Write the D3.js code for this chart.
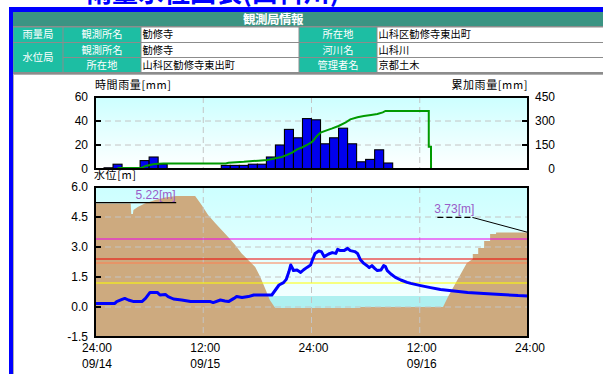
<!DOCTYPE html>
<html>
<head>
<meta charset="utf-8">
<script src="https://cdn.jsdelivr.net/npm/d3@7"></script>
<style>
  html, body { margin: 0; padding: 0; background: #fff; overflow: hidden; }
  svg { display: block; }
  text { font-family: "Liberation Sans", Arial, sans-serif; }
  .jp { font-family: "Noto Sans CJK JP", "Noto Sans", sans-serif; }
</style>
</head>
<body>
<svg id="chart" width="603" height="374"></svg>
<script>
// ---------- station information ----------
const pageTitle   = "雨量水位図表(山科川)";
const tableTitle  = "観測局情報";
const stationKinds = ["雨量局", "水位局"];
const fieldNames  = ["観測所名", "所在地", "観測所名", "河川名", "所在地", "管理者名"];
const fieldValues = ["勧修寺", "山科区勧修寺東出町", "勧修寺", "山科川", "山科区勧修寺東出町", "京都土木"];

// ---------- time axis (hours from 09/14 24:00) ----------
const tickHours = [0, 12, 24, 36, 48];
const tickTimes = ["24:00", "12:00", "24:00", "12:00", "24:00"];
const tickDates = ["09/14", "09/15", "", "09/16", ""];

// ---------- hourly rainfall [mm] ----------
const rainValues = [0, 1, 4, 0, 0, 7, 10, 4, 0, 0, 0, 0, 0, 0, 3, 3,
                    3, 4, 4, 10, 20, 33, 26, 42, 41, 21, 26, 34, 21, 6, 8, 16,
                    5, 0, 0, 0, 0, 0, 0, 0, 0, 0, 0, 0, 0, 0, 0, 0];
const rainHours = d3.range(rainValues.length);

// ---------- cumulative rainfall [mm] ----------
const cumHours  = [2.5, 5.2, 5.6, 6.1, 6.6, 7.6, 14.5, 14.8, 16.5, 17.5, 18.1, 19.1, 20.0,
                   20.7, 21.3, 21.9, 22.4, 23.0, 23.5, 24.1, 24.6, 25.0, 25.6, 26.3, 27.0,
                   27.8, 28.3, 29.1, 29.8, 30.6, 31.3, 31.9, 32.2, 37.0, 37.0, 37.25, 37.25];
const cumValues = [6, 8, 19, 25, 31, 34, 34, 39, 45, 50, 52, 56, 67,
                   75, 88, 104, 123, 136, 150, 171, 206, 227, 240, 254, 269,
                   292, 310, 323, 331, 338, 344, 354, 363, 363, 139, 139, 0];

// ---------- water level [m] ----------
const levelHours = [0, 2.2, 2.4, 3.0, 3.3, 3.7, 4.3, 5.2, 5.6, 6.1, 6.9, 7.2, 7.8, 8.1, 8.7, 9.6,
                    10.6, 12.8, 13.1, 13.9, 14.4, 14.8, 15.4, 15.7, 16.3, 17.0, 17.6, 19.6, 20.0,
                    20.4, 20.9, 21.2, 21.5, 21.7, 21.9, 22.0, 22.4, 22.8, 23.1, 23.5, 23.9, 24.1,
                    24.4, 24.8, 25.1, 25.4, 25.9, 26.3, 26.7, 26.9, 27.2, 27.6, 28.0, 28.3, 28.8,
                    29.1, 29.4, 29.8, 30.2, 30.4, 30.7, 31.0, 31.3, 31.7, 32.0, 32.2, 32.4, 32.8,
                    33.3, 33.9, 34.6, 35.0, 36.1, 37.2, 38.3, 39.8, 41.3, 43.1, 45.0, 46.9, 48.0];
const levelValues = [0.18, 0.18, 0.27, 0.38, 0.43, 0.35, 0.27, 0.27, 0.43, 0.73, 0.73, 0.60, 0.63, 0.52, 0.40, 0.35,
                     0.27, 0.27, 0.22, 0.35, 0.30, 0.27, 0.43, 0.52, 0.47, 0.52, 0.60, 0.60, 0.85,
                     1.10, 1.22, 1.38, 1.77, 2.10, 1.93, 1.82, 1.85, 1.73, 1.85, 1.98, 2.10, 2.35,
                     2.68, 2.80, 2.77, 2.52, 2.65, 2.72, 2.68, 2.88, 2.82, 2.82, 2.93, 2.82, 2.77,
                     2.68, 2.38, 2.18, 2.05, 1.97, 2.07, 1.93, 1.82, 1.85, 2.07, 2.02, 1.82, 1.65,
                     1.48, 1.35, 1.23, 1.18, 1.07, 0.97, 0.88, 0.80, 0.73, 0.68, 0.63, 0.57, 0.55];

// ---------- river cross-section (distance [m], elevation [m]) ----------
const sectionDist = [0, 6.6, 6.7, 7.0, 7.1, 7.9, 9.2, 11.1, 12.9, 15.0, 18.5, 19.7, 20.9, 22.2,
                     23.4, 24.6, 25.9, 27.1, 28.3, 29.6, 30.5, 31.4, 32.3, 33.3, 49.0, 49.0,
                     64.3, 65.2, 68.7, 69.8, 69.8, 70.8, 70.8, 71.9, 71.9, 73.0, 73.0, 74.1, 74.1, 80];
const sectionElev = [5.18, 5.18, 4.65, 4.65, 4.85, 5.0, 5.18, 5.35, 5.47, 5.55, 5.55, 5.1, 4.6, 4.2,
                     3.85, 3.5, 3.1, 2.68, 2.35, 2.0, 1.52, 0.95, 0.35, -0.05, -0.05, 0.0,
                     0.0, 0.5, 2.2, 2.4, 2.65, 2.65, 2.95, 2.95, 3.3, 3.3, 3.65, 3.65, 3.73, 3.73];

// bank crown heights and warning levels [m]
const leftBankHeight  = 5.22;
const rightBankHeight = 3.73;
const warningLevels   = [3.40, 2.40, 2.20, 1.20];

const rainTicks  = [0, 20, 40, 60];
const cumTicks   = [0, 150, 300, 450];
const levelTicks = [-1.5, 0.0, 1.5, 3.0, 4.5, 6.0];

// ======================================================================
const svg = d3.select("#chart");

// page heading (scrolled partly out of view) and blue frame
svg.append("text").attr("class", "jp")
  .attr("x", 86).attr("y", 2)
  .attr("font-size", 26).attr("font-weight", "bold")
  .attr("fill", "#0000ff").text(pageTitle);
svg.append("rect").attr("x", 9).attr("y", 7).attr("width", 603 - 9).attr("height", 5).attr("fill", "#0000ff");
svg.append("rect").attr("x", 9).attr("y", 7).attr("width", 4).attr("height", 374 - 7).attr("fill", "#0000ff");

// ---------- information table ----------
const tbl = svg.append("g");
const colX = [13, 63, 141, 299, 377, 605];
const rowY = [27, 42.5, 57.5, 72.5];
tbl.append("rect").attr("x", 13).attr("y", 12).attr("width", 592).attr("height", 14).attr("fill", "#3b9483");
tbl.append("text").attr("class", "jp")
  .attr("x", 273).attr("y", 19.3).attr("dy", "0.36em")
  .attr("text-anchor", "middle").attr("font-size", 12.5).attr("font-weight", "bold")
  .attr("letter-spacing", -0.5).attr("fill", "#fff").text(tableTitle);
tbl.append("rect").attr("x", 13).attr("y", 26).attr("width", 592).attr("height", 48).attr("fill", "#8c8c8c");

const cells = [];
cells.push({c0: 0, c1: 1, r0: 0, r1: 1, text: stationKinds[0], kind: "head"});
cells.push({c0: 0, c1: 1, r0: 1, r1: 3, text: stationKinds[1], kind: "head"});
for (let r = 0; r < 3; r++) {
  cells.push({c0: 1, c1: 2, r0: r, r1: r + 1, text: fieldNames[r * 2], kind: "head"});
  cells.push({c0: 2, c1: 3, r0: r, r1: r + 1, text: fieldValues[r * 2], kind: "value"});
  cells.push({c0: 3, c1: 4, r0: r, r1: r + 1, text: fieldNames[r * 2 + 1], kind: "head"});
  cells.push({c0: 4, c1: 5, r0: r, r1: r + 1, text: fieldValues[r * 2 + 1], kind: "value"});
}
cells.forEach(d => {
  const x0 = colX[d.c0] + 0.5, x1 = colX[d.c1] - 0.5;
  const y0 = rowY[d.r0] + 0.5, y1 = rowY[d.r1] - 0.5;
  tbl.append("rect").attr("x", x0).attr("y", y0).attr("width", x1 - x0).attr("height", y1 - y0)
    .attr("fill", d.kind === "head" ? "#1dbea3" : "#ffffff");
  tbl.append("text").attr("class", "jp")
    .attr("x", d.kind === "head" ? (x0 + x1) / 2 : x0 + 1)
    .attr("y", (y0 + y1) / 2).attr("dy", "0.36em")
    .attr("text-anchor", d.kind === "head" ? "middle" : "start")
    .attr("font-size", 10.2).attr("letter-spacing", 0.1)
    .attr("fill", d.kind === "head" ? "#fff" : "#000").text(d.text);
});
// lower edge of the table and the chart box
svg.append("rect").attr("x", 13).attr("y", 74).attr("width", 592).attr("height", 1).attr("fill", "#b0b0b0");
svg.append("rect").attr("x", 13).attr("y", 75).attr("width", 1).attr("height", 300).attr("fill", "#b0b0b0");

// ---------- scales ----------
const plotL = 95, plotR = 528;
const rainTop = 97, rainBot = 169;
const lvlTop = 187, lvlBot = 337;

const x     = d3.scaleLinear().domain([0, 48]).range([plotL, plotR]);
const yRain = d3.scaleLinear().domain([0, 60]).range([rainBot, rainTop]);
const yCum  = d3.scaleLinear().domain([0, 450]).range([rainBot, rainTop]);
const yLvl  = d3.scaleLinear().domain([-1.5, 6.0]).range([lvlBot, lvlTop]);
const xSec  = d3.scaleLinear().domain([0, 80]).range([plotL, plotR]);

const defs = svg.append("defs");
const grad = defs.append("linearGradient").attr("id", "sky").attr("x1", 0).attr("y1", 0).attr("x2", 0).attr("y2", 1);
grad.append("stop").attr("offset", "0%").attr("stop-color", "#ccffff");
grad.append("stop").attr("offset", "100%").attr("stop-color", "#ffffff");
defs.append("clipPath").attr("id", "clipRain").append("rect")
  .attr("x", plotL).attr("y", rainTop).attr("width", plotR - plotL).attr("height", rainBot - rainTop);
defs.append("clipPath").attr("id", "clipLvl").append("rect")
  .attr("x", plotL).attr("y", lvlTop).attr("width", plotR - plotL).attr("height", lvlBot - lvlTop);

const gridColor = "#c4c4c4", gridDash = "6,4";

function vGrid(g, y0, y1) {
  g.selectAll(null).data(tickHours.slice(1, -1)).enter().append("line")
    .attr("x1", d => x(d)).attr("x2", d => x(d)).attr("y1", y0).attr("y2", y1)
    .attr("stroke", gridColor).attr("stroke-dasharray", gridDash);
}

// ---------- rainfall chart ----------
const rain = svg.append("g");
rain.append("rect").attr("x", plotL).attr("y", rainTop).attr("width", plotR - plotL)
  .attr("height", rainBot - rainTop).attr("fill", "url(#sky)");
const rainPlot = rain.append("g").attr("clip-path", "url(#clipRain)");
rainPlot.selectAll(null).data(rainTicks.slice(1, -1)).enter().append("line")
  .attr("x1", plotL).attr("x2", plotR).attr("y1", d => yRain(d)).attr("y2", d => yRain(d))
  .attr("stroke", gridColor).attr("stroke-dasharray", gridDash);
vGrid(rainPlot, rainTop, rainBot);

rainPlot.selectAll(null).data(rainHours.filter(h => rainValues[h] > 0)).enter().append("rect")
  .attr("x", h => x(h)).attr("width", h => x(h + 1) - x(h))
  .attr("y", h => yRain(rainValues[h])).attr("height", h => yRain(0) - yRain(rainValues[h]))
  .attr("fill", "#0000ee").attr("stroke", "#000").attr("stroke-width", 1.1);

rainPlot.append("path")
  .datum(d3.zip(cumHours, cumValues))
  .attr("d", d3.line().x(d => x(d[0])).y(d => yCum(d[1])))
  .attr("fill", "none").attr("stroke", "#009a00").attr("stroke-width", 2);

rain.append("rect").attr("x", plotL).attr("y", rainTop).attr("width", plotR - plotL)
  .attr("height", rainBot - rainTop).attr("fill", "none").attr("stroke", "#000").attr("stroke-width", 2);
rain.selectAll(null).data(rainTicks.slice(1, -1)).enter().append("line")
  .attr("x1", plotL).attr("x2", plotL + 6).attr("y1", d => yRain(d)).attr("y2", d => yRain(d))
  .attr("stroke", "#000").attr("stroke-width", 2);
rain.selectAll(null).data(cumTicks.slice(1, -1)).enter().append("line")
  .attr("x1", plotR - 6).attr("x2", plotR).attr("y1", d => yCum(d)).attr("y2", d => yCum(d))
  .attr("stroke", "#000").attr("stroke-width", 2);
rain.selectAll(null).data(rainTicks).enter().append("text")
  .attr("x", 88).attr("y", d => yRain(d)).attr("dy", "0.36em")
  .attr("text-anchor", "end").attr("font-size", 12).text(d => d);
rain.selectAll(null).data(cumTicks).enter().append("text")
  .attr("x", 555).attr("y", d => yCum(d)).attr("dy", "0.36em")
  .attr("text-anchor", "end").attr("font-size", 12).text(d => d);
rain.append("text").attr("class", "jp").attr("x", plotL).attr("y", 89)
  .attr("font-size", 11).attr("letter-spacing", 0.6).text("時間雨量[mm]");
rain.append("text").attr("class", "jp").attr("x", plotR).attr("y", 89)
  .attr("text-anchor", "end").attr("font-size", 11).attr("letter-spacing", 0.6).text("累加雨量[mm]");

// ---------- water level chart ----------
const lvl = svg.append("g");
lvl.append("rect").attr("x", plotL).attr("y", lvlTop).attr("width", plotR - plotL)
  .attr("height", lvlBot - lvlTop).attr("fill", "url(#sky)");
const lvlPlot = lvl.append("g").attr("clip-path", "url(#clipLvl)");

// water standing in the channel at the latest level
const currentLevel = levelValues[levelValues.length - 1];
lvlPlot.append("rect").attr("x", plotL).attr("width", plotR - plotL)
  .attr("y", yLvl(currentLevel)).attr("height", lvlBot - yLvl(currentLevel))
  .attr("fill", "#aef0f0");

// ground of the cross-section
lvlPlot.append("path")
  .datum(d3.zip(sectionDist, sectionElev))
  .attr("d", d3.area().x(d => xSec(d[0])).y0(yLvl(-1.5)).y1(d => yLvl(d[1])))
  .attr("fill", "#cdaa7f");

lvlPlot.selectAll(null).data(levelTicks.slice(1, -1)).enter().append("line")
  .attr("x1", plotL).attr("x2", plotR).attr("y1", d => yLvl(d)).attr("y2", d => yLvl(d))
  .attr("stroke", gridColor).attr("stroke-dasharray", gridDash);
vGrid(lvlPlot, lvlTop, lvlBot);

const warnColors = ["#ee00ee", "#ee0000", "#ff7f50", "#ffff00"];
lvlPlot.selectAll(null).data(warningLevels).enter().append("line")
  .attr("x1", plotL).attr("x2", plotR).attr("y1", d => yLvl(d)).attr("y2", d => yLvl(d))
  .attr("stroke", (d, i) => warnColors[i]).attr("stroke-width", 1.2);

lvlPlot.append("path")
  .datum(d3.zip(levelHours, levelValues))
  .attr("d", d3.line().x(d => x(d[0])).y(d => yLvl(d[1])))
  .attr("fill", "none").attr("stroke", "#0000ff").attr("stroke-width", 3)
  .attr("stroke-linejoin", "round");

// bank crown labels
const labelColor = "#9a5cc8";
lvlPlot.append("line")
  .attr("x1", xSec(0)).attr("x2", xSec(15)).attr("y1", yLvl(leftBankHeight)).attr("y2", yLvl(leftBankHeight))
  .attr("stroke", "#000").attr("stroke-width", 1.2);
lvl.append("text").attr("x", xSec(11.2)).attr("y", yLvl(leftBankHeight) - 4)
  .attr("text-anchor", "middle").attr("font-size", 12).attr("fill", labelColor)
  .text(leftBankHeight.toFixed(2) + "[m]");

const rlx = xSec(66.4), rly = yLvl(4.48);
lvl.append("text").attr("x", rlx).attr("y", rly - 4)
  .attr("text-anchor", "middle").attr("font-size", 12).attr("fill", labelColor)
  .text(rightBankHeight.toFixed(2) + "[m]");
lvlPlot.append("line").attr("x1", rlx - 17).attr("x2", rlx + 18).attr("y1", rly).attr("y2", rly)
  .attr("stroke", "#000").attr("stroke-width", 1.2).attr("stroke-dasharray", "6,3");
lvlPlot.append("line").attr("x1", rlx + 18).attr("y1", rly)
  .attr("x2", xSec(80)).attr("y2", yLvl(rightBankHeight))
  .attr("stroke", "#000").attr("stroke-width", 1);

lvl.append("rect").attr("x", plotL).attr("y", lvlTop).attr("width", plotR - plotL)
  .attr("height", lvlBot - lvlTop).attr("fill", "none").attr("stroke", "#000").attr("stroke-width", 2);
lvl.selectAll(null).data(levelTicks.slice(1, -1)).enter().append("line")
  .attr("x1", plotL).attr("x2", plotL + 6).attr("y1", d => yLvl(d)).attr("y2", d => yLvl(d))
  .attr("stroke", "#000").attr("stroke-width", 2);
lvl.selectAll(null).data(levelTicks).enter().append("text")
  .attr("x", 88).attr("y", d => yLvl(d)).attr("dy", "0.36em")
  .attr("text-anchor", "end").attr("font-size", 12).text(d => d.toFixed(1));
svg.append("text").attr("class", "jp").attr("x", plotL - 1).attr("y", 179)
  .attr("font-size", 11).attr("letter-spacing", 0.6).text("水位[m]");

// time axis labels
lvl.selectAll(null).data(tickHours).enter().append("text")
  .attr("x", d => x(d) + 2).attr("y", 352)
  .attr("text-anchor", "middle").attr("font-size", 12).text((d, i) => tickTimes[i]);
lvl.selectAll(null).data(tickHours).enter().append("text")
  .attr("x", d => x(d) + 2).attr("y", 368)
  .attr("text-anchor", "middle").attr("font-size", 12).text((d, i) => tickDates[i]);
</script>
</body>
</html>
